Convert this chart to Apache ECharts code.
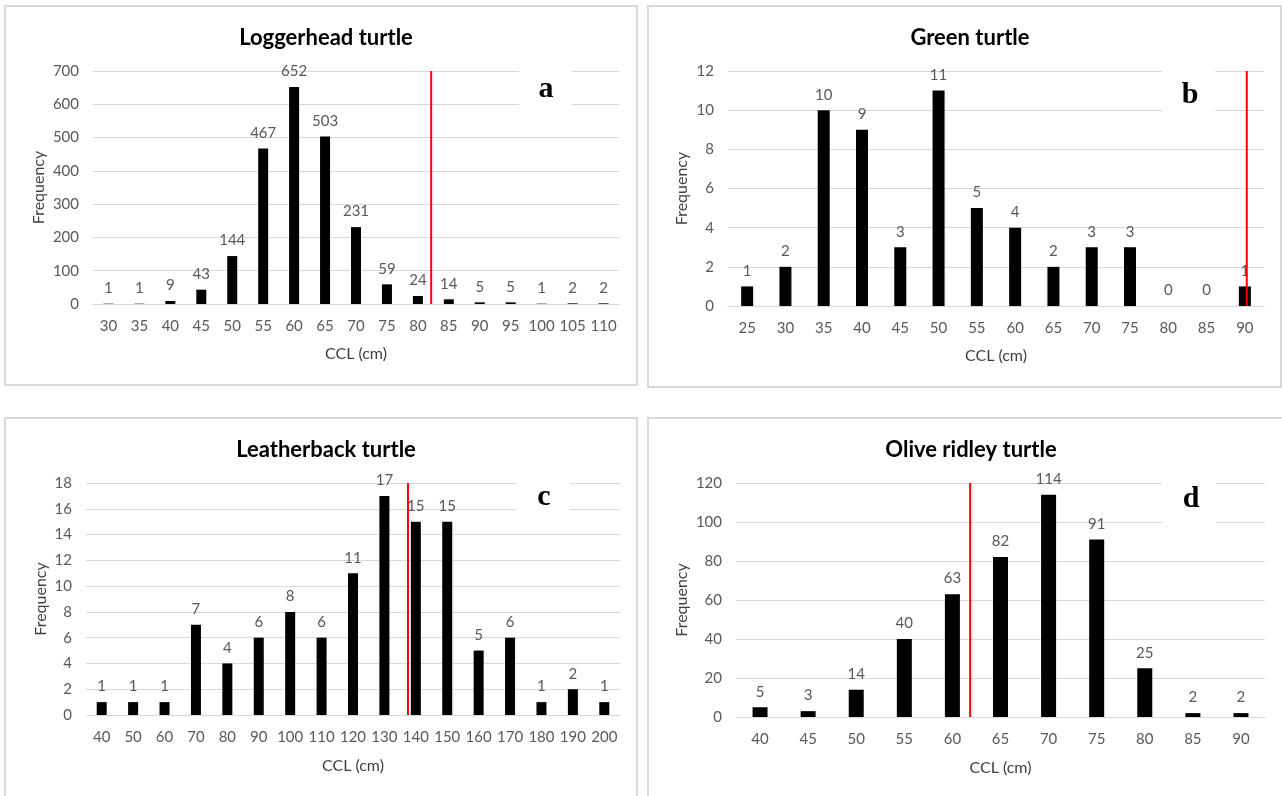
<!DOCTYPE html>
<html>
<head>
<meta charset="utf-8">
<script src="https://cdn.jsdelivr.net/npm/echarts@6/dist/echarts.min.js"></script>
<style>
html,body{margin:0;padding:0;background:#fff;}
#chart{width:1282px;height:796px;}
</style>
</head>
<body>
<div id="chart"></div>
<script>
// ---- Data ----
const loggerheadCats = ['30','35','40','45','50','55','60','65','70','75','80','85','90','95','100','105','110'];
const loggerheadFreq = [1,1,9,43,144,467,652,503,231,59,24,14,5,5,1,2,2];
const loggerheadRef = 10.43; // red line position (category index units)

const greenCats = ['25','30','35','40','45','50','55','60','65','70','75','80','85','90'];
const greenFreq = [1,2,10,9,3,11,5,4,2,3,3,0,0,1];
const greenRef = 13.05;

const leatherbackCats = ['40','50','60','70','80','90','100','110','120','130','140','150','160','170','180','190','200'];
const leatherbackFreq = [1,1,1,7,4,6,8,6,11,17,15,15,5,6,1,2,1];
const leatherbackRef = 9.75;

const oliveCats = ['40','45','50','55','60','65','70','75','80','85','90'];
const oliveFreq = [5,3,14,40,63,82,114,91,25,2,2];
const oliveRef = 4.37;

const titles = ['Loggerhead turtle','Green turtle','Leatherback turtle','Olive ridley turtle'];
const letters = ['a','b','c','d'];
const yMax = [700, 12, 18, 120];
const yStep = [100, 2, 2, 20];

// ---- Layout ----
const panels = [
  {cats: loggerheadCats, vals: loggerheadFreq, ref: loggerheadRef,
   grid:{left:93, top:71, width:526, height:233}, barW:10, yGap:46, xGap:42,
   box:{x:5,y:6,w:632,h:379}, titleX:321, titleY:22, letter:{x:546,y:89}, white:{x:519,y:62,w:53,h:52}},
  {cats: greenCats, vals: greenFreq, ref: greenRef,
   grid:{left:728, top:71, width:536, height:235}, barW:12, yGap:38, xGap:42,
   box:{x:648,y:6,w:633,h:381}, titleX:965, titleY:22, letter:{x:1190,y:95}, white:{x:1162,y:62,w:53,h:52}},
  {cats: leatherbackCats, vals: leatherbackFreq, ref: leatherbackRef,
   grid:{left:86, top:483, width:534, height:232}, barW:10, yGap:37, xGap:43,
   box:{x:5,y:418,w:632,h:390}, titleX:321, titleY:434, letter:{x:544,y:497}, white:{x:517,y:474,w:53,h:52}},
  {cats: oliveCats, vals: oliveFreq, ref: oliveRef,
   grid:{left:736, top:483, width:529, height:234}, barW:15, yGap:46, xGap:43,
   box:{x:648,y:418,w:640,h:390}, titleX:966, titleY:434, letter:{x:1191,y:499}, white:{x:1162,y:474,w:54,h:52}}
];

const FONT = 'Lato, "Open Sans", sans-serif';
const grids = [], xAxes = [], yAxes = [], series = [], titleOpts = [], graphics = [];

panels.forEach((p, i) => {
  grids.push(Object.assign({containLabel:false}, p.grid));
  xAxes.push({
    type:'category', gridIndex:i, data:p.cats,
    name:'CCL (cm)', nameLocation:'middle', nameGap:p.xGap,
    nameTextStyle:{color:'#404040', fontSize:16, fontFamily:FONT},
    axisLine:{lineStyle:{color:'#d9d9d9', width:1}},
    axisTick:{show:false},
    axisLabel:{color:'#595959', fontSize:15, fontFamily:FONT, margin:15, interval:0}
  });
  xAxes.push({
    type:'value', gridIndex:i, min:-0.5, max:p.cats.length-0.5, show:false
  });
  yAxes.push({
    type:'value', gridIndex:i, min:0, max:yMax[i], interval:yStep[i],
    name:'Frequency', nameLocation:'middle', nameGap:p.yGap, nameRotate:90,
    nameTextStyle:{color:'#404040', fontSize:16, fontFamily:FONT},
    axisLine:{show:false}, axisTick:{show:false},
    axisLabel:{color:'#595959', fontSize:15, fontFamily:FONT, margin:14},
    splitLine:{lineStyle:{color:'#d9d9d9', width:1}}
  });
  series.push({
    type:'bar', xAxisIndex:2*i, yAxisIndex:i, data:p.vals, barWidth:p.barW,
    itemStyle:{color:'#000000'},
    label:{show:true, position:'top', distance:8, color:'#595959', fontSize:15, fontFamily:FONT},
    z:2
  });
  series.push({
    type:'line', xAxisIndex:2*i+1, yAxisIndex:i,
    data:[[p.ref,0],[p.ref,yMax[i]]],
    symbol:'none', lineStyle:{color:'#ff0000', width:2}, z:5, silent:true
  });
  titleOpts.push({
    text:titles[i], left:p.titleX, top:p.titleY, textAlign:'center',
    textStyle:{color:'#000', fontSize:22, fontWeight:'bold', fontFamily:FONT}
  });
  graphics.push({
    type:'rect', z:0, shape:{x:p.box.x, y:p.box.y, width:p.box.w, height:p.box.h},
    style:{fill:'none', stroke:'#d9d9d9', lineWidth:2}
  });
  graphics.push({
    type:'rect', z:10, shape:{x:p.white.x, y:p.white.y, width:p.white.w, height:p.white.h},
    style:{fill:'#ffffff', stroke:'none'}
  });
  graphics.push({
    type:'text', z:11, x:p.letter.x, y:p.letter.y,
    style:{text:letters[i], fill:'#000', font:'bold 30px "Liberation Serif", "DejaVu Serif", serif',
           textAlign:'center', textVerticalAlign:'middle'}
  });
});

const chart = echarts.init(document.getElementById('chart'));
chart.setOption({
  backgroundColor:'#ffffff',
  animation:false,
  title:titleOpts,
  grid:grids, xAxis:xAxes, yAxis:yAxes, series:series,
  graphic:graphics
});
</script>
</body>
</html>
